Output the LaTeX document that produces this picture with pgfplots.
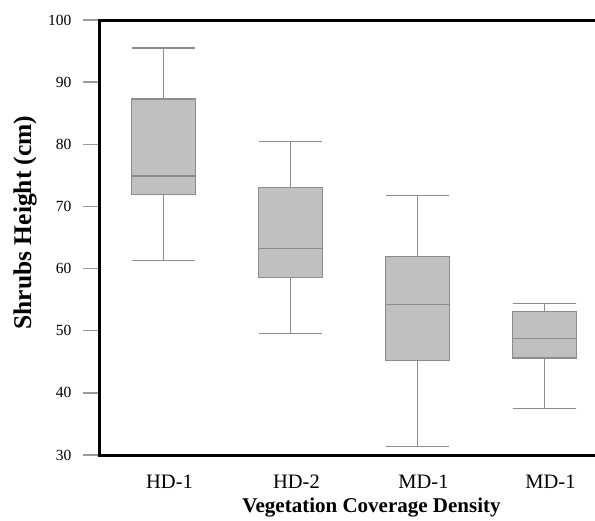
\documentclass[border=0pt]{standalone}
\usepackage{fontspec}
\setmainfont{Liberation Serif}
\usepackage{pgfplots}
\pgfplotsset{compat=1.18}
\usepgfplotslibrary{statistics}
\definecolor{boxfill}{HTML}{C0C0C0}
\definecolor{boxedge}{HTML}{8C8C8C}
\definecolor{tickgray}{HTML}{9A9A9A}
\begin{document}
\begin{tikzpicture}
\begin{axis}[
  anchor=south west, at={(0,0)},
  scale only axis,
  width=495bp, height=435bp,
  xmin=0.5, xmax=4.398,
  ymin=30, ymax=100,
  ytick={30,40,...,100},
  xtick={1,2,3,4},
  xticklabels={HD-1,HD-2,MD-1,MD-1},
  axis line style={draw=none},
  tick align=outside,
  major tick length=17bp,
  ytick style={draw=tickgray, line width=1.3bp},
  xtick style={draw=none},
  /pgf/number format/assume math mode=true,
  yticklabel style={font=\fontsize{15.5bp}{18bp}\selectfont, anchor=east, xshift=-8bp},
  xticklabel style={font=\fontsize{20.5bp}{24bp}\selectfont, anchor=base, xshift=6bp, yshift=-16bp},
  xlabel={Vegetation Coverage Density},
  ylabel={Shrubs Height (cm)},
  every axis x label/.style={at={(axis description cs:0.5485,0)}, anchor=center, yshift=-53bp, font=\fontsize{21bp}{24bp}\selectfont\bfseries},
  every axis y label/.style={at={(axis description cs:-0.1515,0.5345)}, rotate=90, anchor=center, font=\fontsize{25.5bp}{28bp}\selectfont\bfseries},
  boxplot/draw direction=y,
  boxplot/box extend=0.5,
  boxplot/whisker extend=0.5,
  clip=false,
]
\addplot[draw=boxedge, fill=boxfill, line width=1.2bp, solid,
  boxplot prepared={draw position=1, lower whisker=61.3, lower quartile=71.9, median=74.9, upper quartile=87.3, upper whisker=95.5}] coordinates {};
\addplot[draw=boxedge, fill=boxfill, line width=1.2bp, solid,
  boxplot prepared={draw position=2, lower whisker=49.5, lower quartile=58.6, median=63.2, upper quartile=73.1, upper whisker=80.5}] coordinates {};
\addplot[draw=boxedge, fill=boxfill, line width=1.2bp, solid,
  boxplot prepared={draw position=3, lower whisker=31.4, lower quartile=45.2, median=54.2, upper quartile=62.0, upper whisker=71.8}] coordinates {};
\addplot[draw=boxedge, fill=boxfill, line width=1.2bp, solid,
  boxplot prepared={draw position=4, lower whisker=37.5, lower quartile=45.6, median=48.8, upper quartile=53.1, upper whisker=54.4}] coordinates {};
\draw[black, line width=3bp] (rel axis cs:1.05,1) -- (rel axis cs:0,1) -- (rel axis cs:0,0) -- (rel axis cs:1.05,0);
\end{axis}
\pgfresetboundingbox
\useasboundingbox (-100bp,-66bp) rectangle (495bp,455bp);
\end{tikzpicture}
\end{document}
